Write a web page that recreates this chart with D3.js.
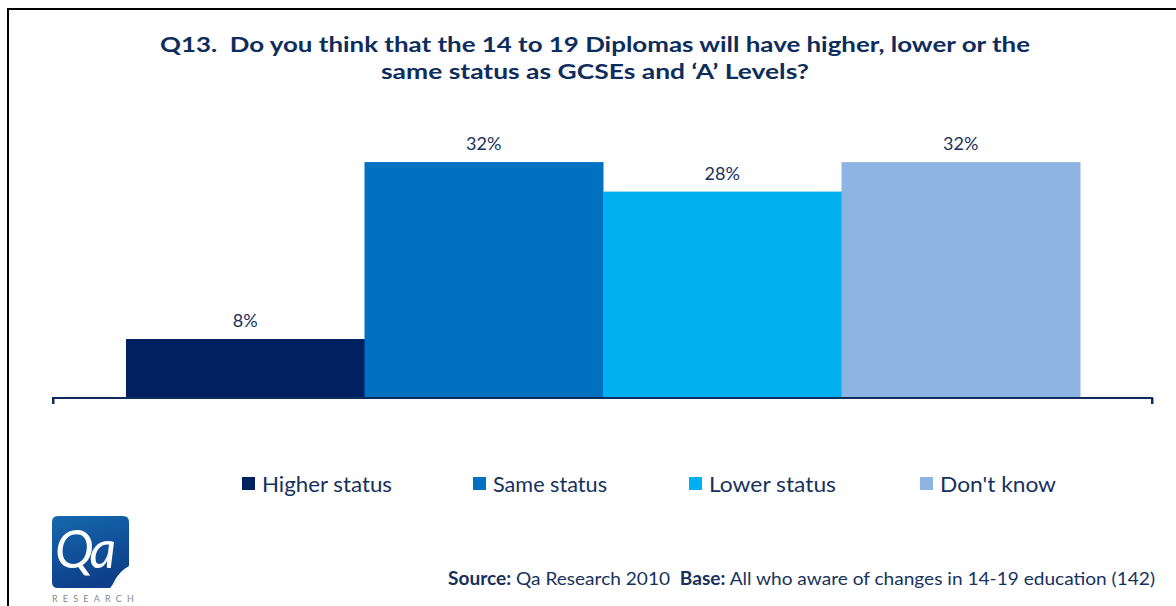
<!DOCTYPE html>
<html>
<head>
<meta charset="utf-8">
<script src="https://cdn.jsdelivr.net/npm/d3@7"></script>
<style>
  html, body { margin: 0; padding: 0; background: #fff; }
  svg { display: block; }
  text { font-family: "Lato", "Open Sans", sans-serif; white-space: pre; }
</style>
</head>
<body>
<svg id="chart" width="1176" height="606"></svg>
<script>
// Survey answers (share of respondents)
const categories = ["Higher status", "Same status", "Lower status", "Don't know"];
const values = [0.08, 0.32, 0.28, 0.32];
const colors = ["#002060", "#0070C0", "#00B0F0", "#8EB4E3"];
const titleLines = [
  "Q13.\u00a0 Do you think that the 14 to 19 Diplomas will have higher, lower or the",
  "same status as GCSEs and \u2018A\u2019 Levels?"
];
const titleWidths = [870, 428];

const svg = d3.select("#chart");
const navy = "#16325C";

// frame
svg.append("path")
  .attr("d", "M8,606 V9 H1176")
  .attr("fill", "none").attr("stroke", "#000").attr("stroke-width", 2);

// title
titleLines.forEach((t, i) => {
  svg.append("text")
    .attr("x", 595).attr("y", 52 + i * 27)
    .attr("text-anchor", "middle")
    .attr("fill", "#0E2D5C").attr("font-weight", "bold").attr("font-size", 21)
    .attr("textLength", titleWidths[i]).attr("lengthAdjust", "spacingAndGlyphs")
    .text(t);
});

// plot area
const axisLeft = 53, axisRight = 1152, baseY = 398;
const x = d3.scaleBand().domain(categories).range([126, 1080]).padding(0);
const y = d3.scaleLinear().domain([0, 0.35]).range([baseY, baseY - 258]);

const g = svg.append("g");
g.selectAll("rect.bar").data(categories).join("rect")
  .attr("class", "bar")
  .attr("x", d => x(d))
  .attr("width", x.bandwidth() + 0.5)
  .attr("y", (d, i) => y(values[i]))
  .attr("height", (d, i) => y(0) - y(values[i]))
  .attr("fill", (d, i) => colors[i]);

g.selectAll("text.val").data(categories).join("text")
  .attr("class", "val")
  .attr("x", d => x(d) + x.bandwidth() / 2)
  .attr("y", (d, i) => y(values[i]) - 12)
  .attr("text-anchor", "middle")
  .attr("font-size", 18).attr("fill", navy)
  .text((d, i) => d3.format(".0%")(values[i]));

// baseline with end ticks
const axisG = svg.append("g").attr("transform", `translate(0,${baseY})`)
  .call(d3.axisBottom(d3.scaleLinear().domain([0, 1]).range([axisLeft, axisRight]))
    .tickValues([0, 1]).tickSize(6).tickFormat(""));
axisG.select(".domain").attr("stroke", "#0E2D5C").attr("stroke-width", 2)
  .attr("d", `M${axisLeft},6V0H${axisRight}V6`);
axisG.selectAll(".tick line").attr("stroke", "#0E2D5C").attr("stroke-width", 2);

// legend
const legendX = [242, 473, 689, 920];
const legendW = [130, 114, 127, 116];
const lg = svg.append("g").selectAll("g").data(categories).join("g")
  .attr("transform", (d, i) => `translate(${legendX[i]},484)`);
lg.append("rect").attr("x", 0).attr("y", -7).attr("width", 13).attr("height", 13)
  .attr("fill", (d, i) => colors[i]);
lg.append("text").attr("x", 20).attr("y", 8).attr("font-size", 21).attr("fill", navy)
  .attr("textLength", (d, i) => legendW[i]).attr("lengthAdjust", "spacingAndGlyphs")
  .text(d => d);

// logo
const logo = svg.append("g").attr("transform", "translate(52,516)");
const grad = svg.append("defs").append("linearGradient").attr("id", "lg")
  .attr("x1", 0).attr("y1", 0).attr("x2", 0.3).attr("y2", 1);
grad.append("stop").attr("offset", "0%").attr("stop-color", "#1568AE");
grad.append("stop").attr("offset", "100%").attr("stop-color", "#0D3F8A");
logo.append("path")
  .attr("d", "M6,0 H71 Q77,0 77,6 V50 Q68,55 63,64 Q60,70 58,72 H6 Q0,72 0,66 V6 Q0,0 6,0 Z")
  .attr("fill", "url(#lg)");
logo.append("path").attr("d", "M77,50 Q70,60 58,72 Q66,66 77,50 Z").attr("fill", "#ddd");
logo.append("text").attr("x", 3).attr("y", 52)
  .attr("font-family", "Liberation Serif, serif").attr("font-style", "italic")
  .attr("font-size", 52).attr("letter-spacing", -4).attr("fill", "#fff").text("Qa");
svg.append("text").attr("x", 52).attr("y", 602).attr("font-size", 9)
  .attr("letter-spacing", 5.2).attr("fill", "#888").text("RESEARCH");

// footnote
const foot = svg.append("text").attr("x", 448).attr("y", 585)
  .attr("font-size", 18).attr("fill", navy)
  .attr("textLength", 707).attr("lengthAdjust", "spacingAndGlyphs");
foot.append("tspan").attr("font-weight", "bold").text("Source:");
foot.append("tspan").text(" Qa Research 2010\u00a0 ");
foot.append("tspan").attr("font-weight", "bold").text("Base:");
foot.append("tspan").text(" All who aware of changes in 14-19 education (142)");
</script>
</body>
</html>
